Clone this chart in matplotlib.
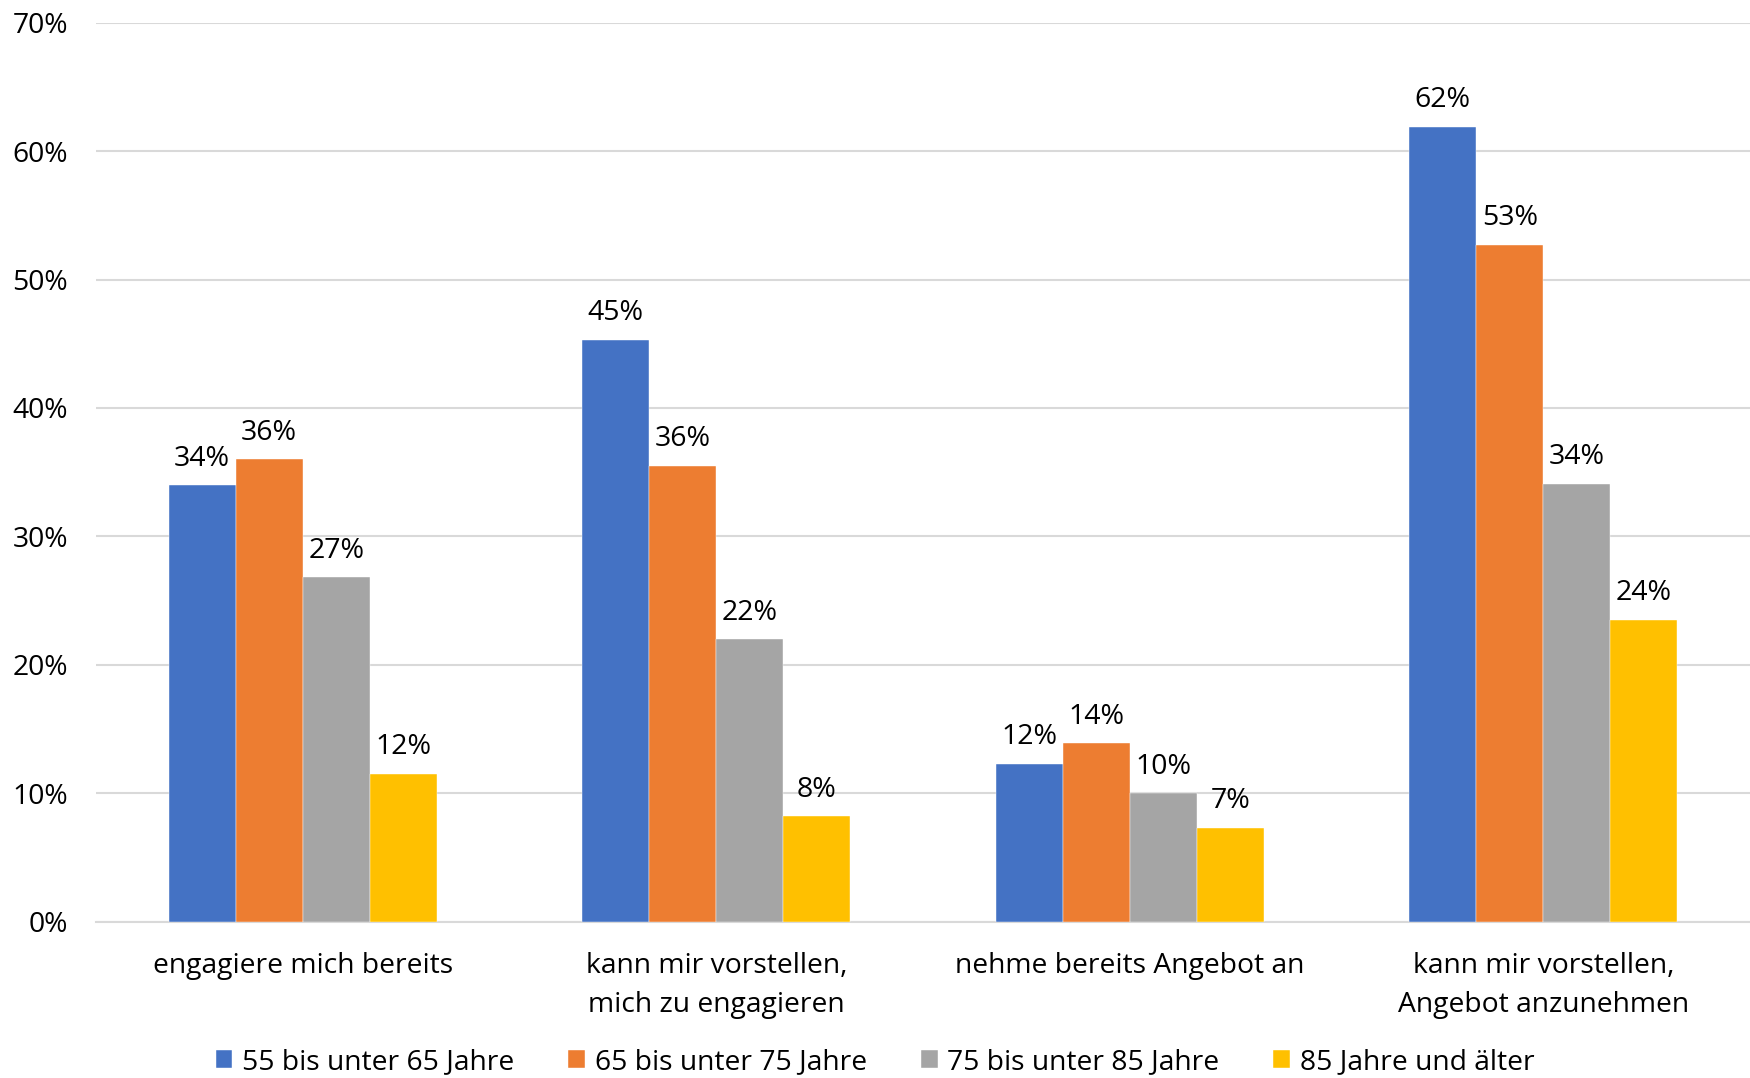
import matplotlib
matplotlib.use("Agg")
import matplotlib.pyplot as plt
import numpy as np

categories = ["engagiere mich bereits", "kann mir vorstellen,\nmich zu engagieren",
              "nehme bereits Angebot an", "kann mir vorstellen,\nAngebot anzunehmen"]
series_names = ["55 bis unter 65 Jahre", "65 bis unter 75 Jahre",
                "75 bis unter 85 Jahre", "85 Jahre und älter"]
v55 = [34.0, 45.3, 12.3, 61.9]
v65 = [36.0, 35.5, 13.9, 52.7]
v75 = [26.8, 22.0, 10.0, 34.1]
v85 = [11.5, 8.2, 7.3, 23.5]
labels55 = ["34%", "45%", "12%", "62%"]
labels65 = ["36%", "36%", "14%", "53%"]
labels75 = ["27%", "22%", "10%", "34%"]
labels85 = ["12%", "8%", "7%", "24%"]
yticks = [0, 10, 20, 30, 40, 50, 60, 70]

colors = ["#4472C4", "#ED7D31", "#A5A5A5", "#FFC000"]
series = [v55, v65, v75, v85]
labels = [labels55, labels65, labels75, labels85]

plt.rcParams['font.family'] = ['Open Sans', 'DejaVu Sans']
fig = plt.figure(figsize=(17.5, 10.78), dpi=100)
ax = fig.add_axes([0.0548, 0.145, 0.9452, 0.834])

x = np.arange(len(categories))
w = 0.162
for i, (vals, c, lab, name) in enumerate(zip(series, colors, labels, series_names)):
    pos = x + (i - 1.5) * w
    ax.bar(pos, vals, width=w, color=c, label=name, zorder=3,
           edgecolor="white", linewidth=0.3)
    for xp, v, t in zip(pos, vals, lab):
        ax.annotate(t, (xp, v), xytext=(0, 9), textcoords="offset points",
                    ha="center", va="bottom", fontsize=20.5, color="#000000")

ax.set_xlim(-0.5, 3.5)
ax.set_ylim(0, 70)
ax.set_yticks(yticks)
ax.set_yticklabels([f"{t}%" for t in yticks], fontsize=20.3)
ax.set_xticks(x)
ax.set_xticklabels(categories, fontsize=20.3, linespacing=1.5)
ax.tick_params(axis='both', length=0)
ax.tick_params(axis='x', pad=22)
ax.tick_params(axis='y', pad=20)
ax.yaxis.grid(True, color="#D9D9D9", linewidth=1.5, zorder=0)
for s in ["top", "right", "left"]:
    ax.spines[s].set_visible(False)
ax.spines["bottom"].set_color("#D9D9D9")
ax.spines["bottom"].set_linewidth(1.5)

fig.legend(loc="center", bbox_to_anchor=(0.5, 0.015), ncol=4, frameon=False,
           fontsize=20.3, handlelength=0.6, handleheight=0.6, handletextpad=0.35,
           columnspacing=1.9, borderpad=0)

fig.savefig("out.png", dpi=100)
